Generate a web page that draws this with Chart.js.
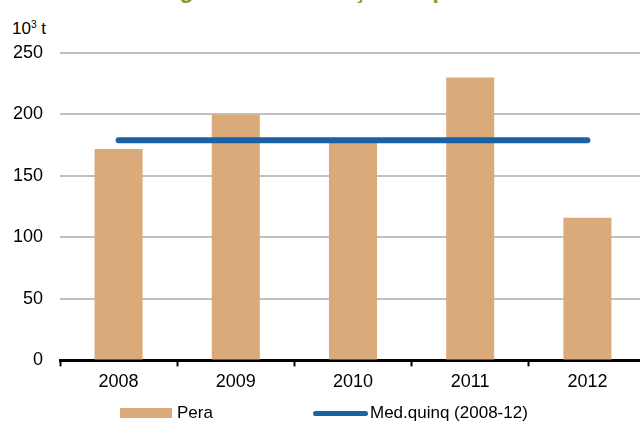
<!DOCTYPE html>
<html>
<head>
<meta charset="utf-8">
<script src="https://cdn.jsdelivr.net/npm/chart.js@4"></script>
<style>
  html, body { margin: 0; padding: 0; background: #fff; overflow: hidden; }
  body { width: 640px; height: 428px; position: relative; font-family: "Liberation Sans", Arial, sans-serif; }
  #wrap { position: absolute; left: 0; top: 0; width: 646px; height: 428px; }
  #title { position: absolute; left: 0; width: 640px; top: -21px; line-height: 1; text-align: center;
           font-size: 23px; font-weight: bold; color: #8b9a2d; white-space: nowrap; }
  #unit { position: absolute; left: 12px; top: 19px; font-size: 17px; color: #000; }
  #unit sup { font-size: 10px; vertical-align: 6px; line-height: 0; }
  #legend { position: absolute; left: 0; top: 403px; width: 640px; height: 24px; font-size: 17px; color: #000; }
  .item { position: absolute; top: 0; display: flex; align-items: center; height: 20px; }
  .swatch { display: inline-block; margin-right: 5px; }
</style>
</head>
<body>
<div id="title">Figura 12 – Produção de pera</div>
<div id="unit">10<sup>3</sup> t</div>
<div id="wrap"><canvas id="chart"></canvas></div>
<div id="legend"></div>
<script>
const years = ['2008', '2009', '2010', '2011', '2012'];
const pera = [172, 200, 177, 230, 116];
const med_quinq = [179, 179, 179, 179, 179];
const y_ticks = [0, 50, 100, 150, 200, 250];

const bar_color = '#dbaa7b';
const line_color = '#1a62a4';

const ctx = document.getElementById('chart').getContext('2d');

new Chart(ctx, {
    data: {
        labels: years,
        datasets: [{
            type: 'line',
            label: 'Med.quinq (2008-12)',
            data: med_quinq,
            borderColor: line_color,
            backgroundColor: line_color,
            borderWidth: 6,
            borderCapStyle: 'round',
            pointRadius: 0,
            order: 0
        }, {
            type: 'bar',
            label: 'Pera',
            data: pera,
            backgroundColor: bar_color,
            borderWidth: 0,
            barPercentage: 0.41,
            categoryPercentage: 1,
            order: 1
        }]
    },
    options: {
        responsive: true,
        maintainAspectRatio: false,
        animation: false,
        layout: { padding: { top: 53, bottom: 30, left: 0, right: 0 } },
        plugins: {
            legend: { display: false },
            tooltip: { enabled: false }
        },
        scales: {
            x: {
                grid: {
                    offset: true,
                    drawOnChartArea: false,
                    drawTicks: true,
                    tickLength: 6,
                    tickWidth: 2,
                    tickColor: '#000'
                },
                border: { display: true, color: '#000', width: 3 },
                ticks: {
                    color: '#000',
                    padding: 5,
                    maxRotation: 0,
                    font: { family: '"Liberation Sans", Arial, sans-serif', size: 18 }
                }
            },
            y: {
                min: 0,
                max: 250,
                afterBuildTicks: scale => { scale.ticks = y_ticks.map(v => ({ value: v })); },
                afterFit: scale => { scale.width = 60; },
                grid: { color: '#c0c0c0', lineWidth: 2, drawTicks: false },
                border: { display: false },
                ticks: {
                    color: '#000',
                    padding: 17,
                    font: { family: '"Liberation Sans", Arial, sans-serif', size: 18 }
                }
            }
        }
    }
});

// legend built from the dataset labels and colours
const legend = document.getElementById('legend');
const legend_items = [
    { label: 'Pera', left: 120, w: 52, h: 10, color: bar_color, round: false },
    { label: 'Med.quinq (2008-12)', left: 313, w: 55, h: 5, color: line_color, round: true }
];
legend_items.forEach(it => {
    const div = document.createElement('div');
    div.className = 'item';
    div.style.left = it.left + 'px';
    const sw = document.createElement('span');
    sw.className = 'swatch';
    sw.style.width = it.w + 'px';
    sw.style.height = it.h + 'px';
    sw.style.background = it.color;
    if (it.round) sw.style.borderRadius = '3px';
    if (it.round) sw.style.marginRight = '2px';
    const txt = document.createElement('span');
    txt.textContent = it.label;
    div.appendChild(sw);
    div.appendChild(txt);
    legend.appendChild(div);
});
</script>
</body>
</html>
